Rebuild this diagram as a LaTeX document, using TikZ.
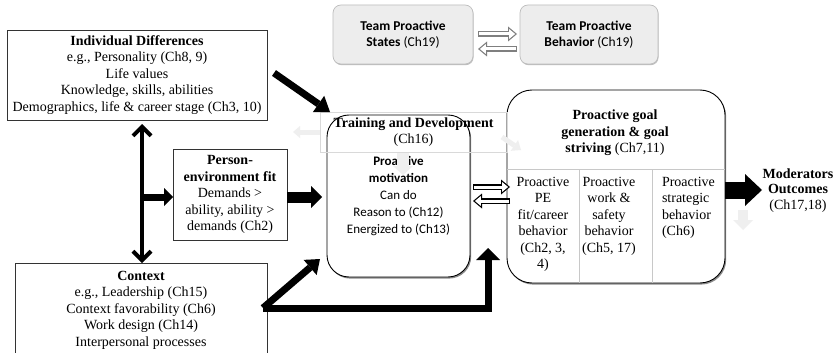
\documentclass[tikz,border=0pt]{standalone}
\usepackage{fontspec}
\setmainfont{Liberation Serif}
\newfontfamily\calib{Carlito}
\usetikzlibrary{arrows.meta,calc,shadows}
\definecolor{teamfill}{HTML}{EDEDED}
\definecolor{teamline}{HTML}{BDBDBD}
\definecolor{teamarrow}{HTML}{7F7F7F}
\definecolor{faint}{HTML}{EFEFEF}
\definecolor{tablerule}{HTML}{C8C8C8}
% hollow (outlined) block arrow: colour, start, end
\newcommand{\hollowarrow}[3]{%
  \draw[line width=5.5pt, #1, -{Triangle[length=9pt,width=15pt,line width=0pt]}] #2 -- #3;
  \draw[line width=3pt, white, shorten <=1.2pt, shorten >=1.9pt,
        -{Triangle[length=5.9pt,width=9.8pt,line width=0pt]}] #2 -- #3;}
\begin{document}
\begin{tikzpicture}[x=1pt,y=-1pt,
  every node/.style={inner sep=0pt, outer sep=0pt},
  serif/.style={font=\fontsize{14}{16.5}\selectfont},
  plainbox/.style={draw=black!80, line width=0.8pt, serif, align=center},
  roundbox/.style={draw=black, line width=0.9pt, fill=white, rounded corners=22pt,
     drop shadow={shadow xshift=1.2pt, shadow yshift=-1.6pt, fill=black!45, opacity=1}},
  teambox/.style={draw=teamline, line width=0.7pt, fill=teamfill, rounded corners=8pt,
     font=\calib\fontsize{13.5}{16.5}\selectfont, align=center,
     drop shadow={shadow xshift=0.6pt, shadow yshift=-1.2pt, fill=black!25, opacity=1}},
  heavy/.style={line width=#1, line join=miter},
  faintarrow/.style={faint, line width=#1}
]
\fill[white] (0,0) rectangle (836,353);
\useasboundingbox (0,0) rectangle (836,353);

% antecedents
\node[plainbox, minimum width=260pt, minimum height=90pt] (id) at (137,75)
  {\textbf{Individual Differences}\\ e.g., Personality (Ch8, 9)\\ Life values\\
   Knowledge, skills, abilities\\ Demographics, life \& career stage (Ch3, 10)};
\node[plainbox, minimum width=252pt, minimum height=94pt] (ctx) at (141,310)
  {\textbf{Context}\\ e.g., Leadership (Ch15)\\ Context favorability (Ch6)\\
   Work design (Ch14)\\ Interpersonal processes};
\node[plainbox, minimum width=114pt, minimum height=91pt] (pe) at (230,194.5)
  {\textbf{Person-}\\ \textbf{environment fit}\\ Demands >\\ ability, ability >\\ demands (Ch2)};

% team level
\node[teambox, minimum width=140pt, minimum height=59pt] (tps) at (403,34.5)
  {\textbf{Team Proactive}\\ \textbf{States} (Ch19)};
\node[teambox, minimum width=138pt, minimum height=59pt] (tpb) at (589,34.5)
  {\textbf{Team Proactive}\\ \textbf{Behavior} (Ch19)};

% motivation
\node[roundbox, minimum width=143pt, minimum height=162pt,
      font=\calib\fontsize{13}{17}\selectfont, align=center] (mot) at (398.5,196)
  {\textbf{Proactive}\\ \textbf{motivation}\\ Can do\\ Reason to (Ch12)\\ Energized to (Ch13)};

% goal generation and striving
\node[roundbox, rounded corners=25pt, minimum width=218pt, minimum height=193pt] (goal) at (616,186.5) {};
\draw[tablerule, line width=0.8pt] (goal.west |- 0,169) -- (goal.east |- 0,169);
\draw[tablerule, line width=0.8pt] (579,169) -- (579,0 |- goal.south);
\draw[tablerule, line width=0.8pt] (652,169) -- (652,0 |- goal.south);
\node[serif, align=center] (goaltitle) at (615,133)
  {\textbf{Proactive goal}\\ \textbf{generation \& goal}\\ \textbf{striving} (Ch7,11)};
\node[serif, align=center, anchor=north] (c1) at (543,177)
  {Proactive\\ PE\\ fit/career\\ behavior\\ (Ch2, 3,\\ 4)};
\node[serif, align=center, anchor=north] (c2) at (609,177)
  {Proactive\\ work \&\\ safety\\ behavior\\ (Ch5, 17)};
\node[serif, align=left, anchor=north west] (c3) at (662,177)
  {Proactive\\ strategic\\ behavior\\ (Ch6)};

% training
\node[draw=gray!30, line width=0.7pt, minimum width=187pt, minimum height=40pt,
      serif, align=center] (train) at (413.5,132)
  {\textbf{Training and Development}\\ (Ch16)};

\node[serif, align=center, font=\fontsize{14}{15.5}\selectfont] (mo) at (798,190.5)
  {\textbf{Moderators}\\ \textbf{Outcomes}\\ (Ch17,18)};

% faint arrows
\draw[faintarrow=5pt, -{Triangle[length=7pt,width=12pt,line width=0pt]}]
  (train.west) -- ($(train.west)+(-27,0)$);
\draw[faintarrow=5pt, -{Triangle[length=8pt,width=13pt,line width=0pt]}]
  ($(train.east)+(-5,5)$) -- ($(train.east)+(14,18)$);
\draw[faintarrow=12pt, -{Triangle[length=9pt,width=20pt,line width=0pt]}]
  ($(train.south)+(-10.5,1)$) -- ($(train.south)+(-10.5,23)$);
\draw[faintarrow=10pt, -{Triangle[length=10pt,width=20pt,line width=0pt]}]
  ($(goal.east)+(18,23.5)$) -- ($(goal.east)+(18,43.5)$);

% reciprocal arrows
\hollowarrow{teamarrow}{($(tps.east)+(5,-0.5)$)}{($(tpb.west)+(-3,-0.5)$)}
\hollowarrow{teamarrow}{($(tpb.west)+(-3,14.5)$)}{($(tps.east)+(5,14.5)$)}
\hollowarrow{black}{($(mot.east)+(3,-9)$)}{($(goal.west)+(3,0.5)$)}
\hollowarrow{black}{($(goal.west)+(3,14.5)$)}{($(mot.east)+(3,5)$)}

% heavy arrows
\coordinate (vtop) at ($(id.south)+(5,4)$);
\coordinate (vbot) at (vtop |- ctx.north);
\draw[heavy=4pt, {Straight Barb[length=9pt,width=18pt]}-{Straight Barb[length=9pt,width=18pt]}]
  (vtop) -- (vbot);
\draw[heavy=7pt, -{Triangle[length=9pt,width=18pt,line width=0pt]}]
  ($(vtop |- pe.west)+(0,2.5)$) -- ($(pe.west)+(0,2.5)$);
\draw[heavy=11pt, -{Triangle[length=11pt,width=22pt,line width=0pt]}]
  ($(pe.east)+(0,2.5)$) -- ($(mot.west)+(-5,1)$);
\draw[heavy=7pt, -{Triangle[length=14pt,width=20pt,line width=0pt]}]
  ($(id.east)+(7,-2)$) -- ($(train.north west)+(10,0)$);
\coordinate (cout) at ($(ctx.north east)+(-4,45)$);
\draw[heavy=7pt, -{Triangle[length=13pt,width=20pt,line width=0pt]}]
  (cout) -- ($(mot.south west)+(-7,-18)$);
\draw[heavy=7pt, -{Triangle[length=12pt,width=24pt,line width=0pt]}]
  (cout) -| ($(mot.east)+(18,52)$);
\draw[heavy=17pt, -{Triangle[length=17pt,width=32pt,line width=0pt]}]
  ($(goal.east)+(0,3.5)$) -- ($(goal.east)+(37,3.5)$);
\end{tikzpicture}
\end{document}
